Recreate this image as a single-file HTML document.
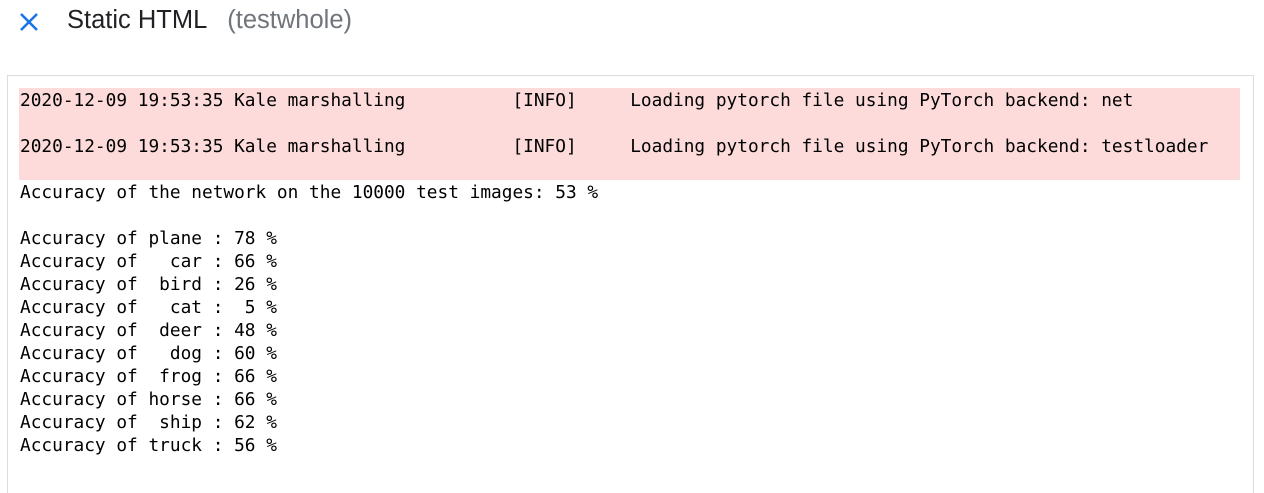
<!DOCTYPE html>
<html style="overflow:hidden;height:493px"><head><style>
body{margin:0;width:1264px;height:493px;background:#fff;overflow:hidden;position:relative;font-family:"Liberation Sans",sans-serif}
.x{position:absolute;left:18px;top:11px}
.title{position:absolute;left:67px;top:6px;font-size:25.5px;color:#202124;white-space:pre}
.title span{color:#70757a;margin-left:20px}
.box{position:absolute;left:7px;top:75px;width:1245px;height:430px;border:1px solid #dadce0}
pre{position:absolute;left:20px;top:89px;margin:0;font-family:"DejaVu Sans Mono","Liberation Mono",monospace;font-size:17.8px;line-height:23px;color:#000}
.pink{position:absolute;left:19px;top:88px;width:1221px;height:92px;background:#fddbdb}
</style></head><body>
<svg class="x" width="22" height="22" viewBox="0 0 22 22"><path d="M3 3L19 19M19 3L3 19" stroke="#1a73e8" stroke-width="2.6"/></svg>
<div class="title">Static HTML<span>(testwhole)</span></div>
<div class="box"></div>
<div class="pink"></div>
<pre>2020-12-09 19:53:35 Kale marshalling          [INFO]     Loading pytorch file using PyTorch backend: net

2020-12-09 19:53:35 Kale marshalling          [INFO]     Loading pytorch file using PyTorch backend: testloader

Accuracy of the network on the 10000 test images: 53 %

Accuracy of plane : 78 %
Accuracy of   car : 66 %
Accuracy of  bird : 26 %
Accuracy of   cat :  5 %
Accuracy of  deer : 48 %
Accuracy of   dog : 60 %
Accuracy of  frog : 66 %
Accuracy of horse : 66 %
Accuracy of  ship : 62 %
Accuracy of truck : 56 %</pre>
</body></html>
